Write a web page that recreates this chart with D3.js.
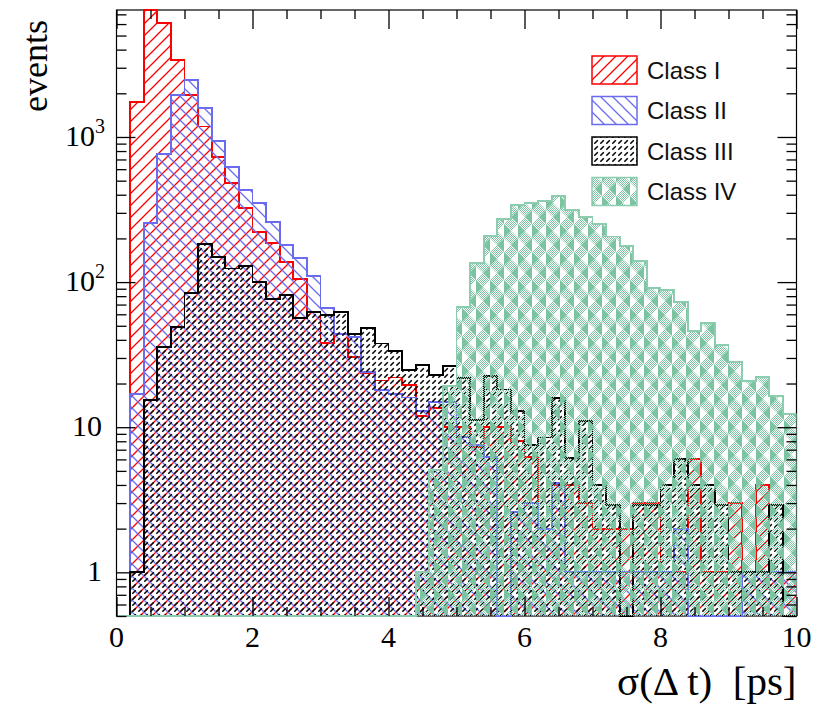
<!DOCTYPE html>
<html><head><meta charset="utf-8">
<script src="https://cdn.jsdelivr.net/npm/d3@7"></script>
<style>
body{margin:0;background:#fff}
svg{display:block}
</style>
</head><body>
<svg id="c" width="820" height="707"></svg>
<script>
// ---------- data ----------
const binEdges = [0,0.2,0.4,0.6,0.8,1.0,1.2,1.4,1.6,1.8,2.0,2.2,2.4,2.6,2.8,3.0,3.2,3.4,3.6,3.8,
  4.0,4.2,4.4,4.6,4.8,5.0,5.2,5.4,5.6,5.8,6.0,6.2,6.4,6.6,6.8,7.0,7.2,7.4,7.6,7.8,
  8.0,8.2,8.4,8.6,8.8,9.0,9.2,9.4,9.6,9.8,10.0];

const classI = [0,1750,15000,6100,3400,1950,1180,730,480,322,
  222,185,138,105,62,38,44,30.5,23.5,21,
  22,19.5,12,13.5,10,10,7.3,10,10,8,
  6.2,2,4,4,3,2,2,2,3,3,
  1,1,6,1,1,3,1,4,1,1];

const classII = [0,17,254,763,1950,2470,1580,940,624,431,
  349,258,180,146,110,66,44,42,24,18,
  17,16,13,15,15,8.6,7.5,6.2,0,2.6,
  3,2,4.1,1,1,1,1,1,1,1,
  1,2,0,0,0,0,1,1,1,1];

const classIII = [0,1,15.4,35.8,49,84,182,149,124,129,
  100,76,81,56.7,62,59,62,43.8,48,37.8,
  33.6,24.7,27,23,26.3,21.8,11.2,22.5,18.2,13,
  7.5,8.5,15.8,6.1,11,4,2.9,0,2.9,2.9,
  4,6,4,4,2.9,1,1,1,2.9,0];

const classIV = [0,0,0,0,0,0,0,0,0,0,
  0,0,0,0,0,0,0,0,0,0,
  0,0,1,5.05,19.2,67,135,208,271,340,
  351,364,392,314,281,250,206,178,139,91.5,
  88,73,46,52,37,28.3,20.7,22.2,16.5,12.4];

const seriesNames = ["Class I","Class II","Class III","Class IV"];
const xTickMajor = [0,2,4,6,8,10];
const xTickMinor = [0.5,1,1.5,2.5,3,3.5,4.5,5,5.5,6.5,7,7.5,8.5,9,9.5];
const yTickMajor = [1,10,100,1000];
const yTickLabels = [["1",""],["10",""],["10","2"],["10","3"]];
const yTickMinor = [0.5,0.6,0.7,0.8,0.9,2,3,4,5,6,7,8,9,20,30,40,50,60,70,80,90,
  200,300,400,500,600,700,800,900,2000,3000,4000,5000,6000,7000];
const xTitle = "σ(Δ t)  [ps]";
const yTitle = "events";

// ---------- layout ----------
const L = 116.5, R = 796.5, T = 10, B = 616;
const yMin = 0.5, yMax = 7500;
const x = d3.scaleLinear().domain([0,10]).range([L,R]);
const y = d3.scaleLog().domain([yMin,yMax]).range([B,T]).clamp(true);

const svg = d3.select("#c");
const defs = svg.append("defs");

// patterns
function hatch(id, color, d, size, sw){
  const p = defs.append("pattern").attr("id",id).attr("patternUnits","userSpaceOnUse")
    .attr("width",size).attr("height",size);
  p.append("path").attr("d",d).attr("stroke",color).attr("stroke-width",sw).attr("fill","none");
}
hatch("pI","#ff0000","M0,12L12,0M-3,3L3,-3M9,15L15,9",12,1.3);
hatch("pII","#6b6bef","M0,0L12,12M-3,9L3,15M9,-3L15,3",12,1.3);
hatch("pIII","#000","M0.3,5.7L3.8,2.2",6,1.5);

const green = "#7cc3a1";
const chk = defs.append("pattern").attr("id","chk").attr("patternUnits","userSpaceOnUse")
  .attr("width",2).attr("height",2);
chk.append("rect").attr("x",0).attr("y",0).attr("width",1).attr("height",1).attr("fill",green);
chk.append("rect").attr("x",1).attr("y",1).attr("width",1).attr("height",1).attr("fill",green);
const pIV = defs.append("pattern").attr("id","pIV").attr("patternUnits","userSpaceOnUse")
  .attr("width",14).attr("height",28);
[0,14].forEach((oy,r)=>{
  pIV.append("polygon").attr("points",`0,${oy} 14,${oy} 7,${oy+7}`).attr("fill","url(#chk)");
  pIV.append("polygon").attr("points",`0,${oy+14} 14,${oy+14} 7,${oy+7}`).attr("fill","url(#chk)");
  if(r===0) pIV.append("polygon").attr("points",`0,${oy} 7,${oy+7} 0,${oy+14}`).attr("fill",green);
  else pIV.append("polygon").attr("points",`14,${oy} 7,${oy+7} 14,${oy+14}`).attr("fill",green);
});

defs.append("clipPath").attr("id","plotclip").append("rect")
  .attr("x",L).attr("y",T-1).attr("width",R-L).attr("height",B-T+2);

// frame
svg.append("rect").attr("x",L).attr("y",T).attr("width",R-L).attr("height",B-T)
  .attr("fill","none").attr("stroke","#000").attr("stroke-width",1.2);

// histograms
const hists = [
  {vals:classI, fill:"url(#pI)", stroke:"#ff0000"},
  {vals:classII, fill:"url(#pII)", stroke:"#6b6bef"},
  {vals:classIII, fill:"url(#pIII)", stroke:"#000"},
  {vals:classIV, fill:"url(#pIV)", stroke:"#8ccdb0"}
];
const line = d3.line();
const gH = svg.append("g").attr("clip-path","url(#plotclip)");
hists.forEach(h=>{
  const pts = [[x(binEdges[0]),B]];
  h.vals.forEach((v,i)=>{
    const yy = v >= yMin ? y(v) : B;
    pts.push([x(binEdges[i]),yy],[x(binEdges[i+1]),yy]);
  });
  pts.push([x(binEdges[binEdges.length-1]),B]);
  gH.append("path").attr("d",line(pts)).attr("fill",h.fill).attr("stroke","none");
  gH.append("path").attr("d",line(pts)).attr("fill","none").attr("stroke",h.stroke)
    .attr("stroke-width",1.8).attr("shape-rendering","crispEdges");
});

// axes ticks
function ticks(axis, tr){
  const g = svg.append("g").attr("transform",tr).call(axis);
  g.select(".domain").remove();
  g.selectAll("line").attr("stroke","#000").attr("stroke-width",1.3);
  g.selectAll("text").remove();
}
ticks(d3.axisBottom(x).tickValues(xTickMajor).tickSize(-19), `translate(0,${B})`);
ticks(d3.axisBottom(x).tickValues(xTickMinor).tickSize(-9), `translate(0,${B})`);
ticks(d3.axisTop(x).tickValues(xTickMajor).tickSize(-19), `translate(0,${T})`);
ticks(d3.axisTop(x).tickValues(xTickMinor).tickSize(-9), `translate(0,${T})`);
ticks(d3.axisLeft(y).tickValues(yTickMajor).tickSize(-19), `translate(${L},0)`);
ticks(d3.axisLeft(y).tickValues(yTickMinor).tickSize(-10), `translate(${L},0)`);
ticks(d3.axisRight(y).tickValues(yTickMajor).tickSize(-19), `translate(${R},0)`);
ticks(d3.axisRight(y).tickValues(yTickMinor).tickSize(-10), `translate(${R},0)`);

const serif = "'Liberation Serif','Times New Roman',serif";
// x labels
svg.append("g").selectAll("text").data(xTickMajor).join("text")
  .attr("x",d=>x(d)).attr("y",647).attr("text-anchor","middle")
  .attr("font-family",serif).attr("font-size",30).attr("fill","#000").text(d=>d);
// y labels
yTickMajor.forEach((v,i)=>{
  const [base,sup] = yTickLabels[i];
  const t = svg.append("text").attr("x",sup?105:102).attr("y",y(v)+9).attr("text-anchor","end")
    .attr("font-family",serif).attr("font-size",30).attr("fill","#000");
  t.append("tspan").text(base);
  if(sup) t.append("tspan").attr("font-size",20).attr("dy",-13).text(sup);
});
// titles
svg.append("text").attr("x",R).attr("y",695).attr("text-anchor","end")
  .attr("font-family",serif).attr("font-size",41).attr("fill","#000")
  .style("white-space","pre").text(xTitle);
svg.append("text").attr("transform","translate(47,20) rotate(-90)").attr("text-anchor","end")
  .attr("font-family",serif).attr("font-size",36).attr("fill","#000").text(yTitle);

// legend
const lg = svg.append("g");
seriesNames.forEach((name,i)=>{
  const cy = 70 + i*40.5;
  lg.append("rect").attr("x",592).attr("y",cy-14).attr("width",45).attr("height",28)
    .attr("fill","#fff");
  lg.append("rect").attr("x",592).attr("y",cy-14).attr("width",45).attr("height",28)
    .attr("fill",hists[i].fill).attr("stroke",hists[i].stroke).attr("stroke-width",1.5);
  lg.append("text").attr("x",647).attr("y",cy+8.5)
    .attr("font-family","'Liberation Sans',Arial,sans-serif").attr("font-size",24)
    .attr("fill","#111").text(name);
});
</script>
</body></html>
